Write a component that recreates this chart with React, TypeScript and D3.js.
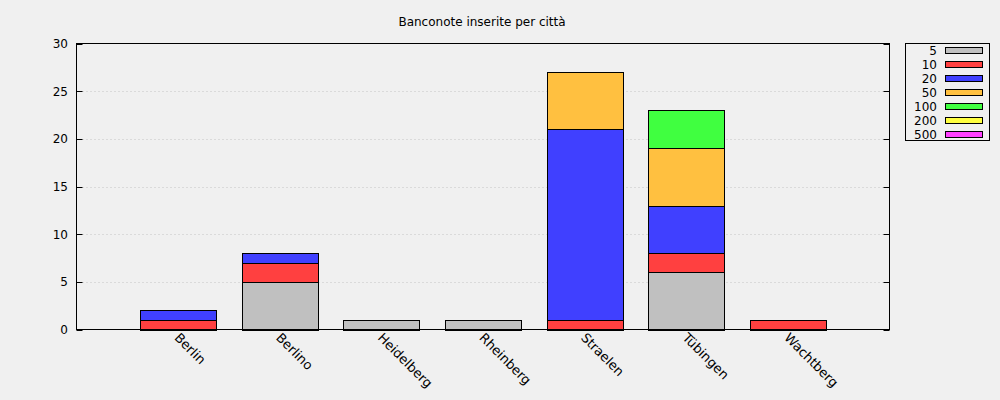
import React from "react";
import * as d3 from "d3";

const cities = ["Berlin", "Berlino", "Heidelberg", "Rheinberg", "Straelen", "Tübingen", "Wachtberg"];
const denominations = ["5", "10", "20", "50", "100", "200", "500"];
const colors = ["#c0c0c0", "#ff4040", "#4040ff", "#ffc040", "#40ff40", "#ffff40", "#ff40ff"];
// counts per denomination, one value per city
const v5 = [0, 5, 1, 1, 0, 6, 0];
const v10 = [1, 2, 0, 0, 1, 2, 1];
const v20 = [1, 1, 0, 0, 20, 5, 0];
const v50 = [0, 0, 0, 0, 6, 6, 0];
const v100 = [0, 0, 0, 0, 0, 4, 0];
const v200 = [0, 0, 0, 0, 0, 0, 0];
const v500 = [0, 0, 0, 0, 0, 0, 0];
const yTicks = [0, 5, 10, 15, 20, 25, 30];
const title = "Banconote inserite per città";

const series = [v5, v10, v20, v50, v100, v200, v500];

export default function App() {
  const W = 1000, H = 400;
  const L = 76.5, R = 889.5, T = 43.5, B = 329.5;
  const x = d3.scaleLinear().domain([-1, cities.length]).range([L, R]);
  const y = d3.scaleLinear().domain([0, 30]).range([B, T]);
  const bw = (x(1) - x(0)) * 0.75;
  const font = "DejaVu Sans, sans-serif";

  const rows = cities.map((c, i) => {
    const obj: any = { city: c };
    denominations.forEach((d, j) => (obj[d] = series[j][i]));
    return obj;
  });
  const stacked = d3.stack().keys(denominations)(rows as any);

  return (
    <svg width={W} height={H} style={{ position: "absolute", left: 0, top: 0, background: "#f0f0f0" }}>
      <rect x={0} y={0} width={W} height={H} fill="#f0f0f0" />
      <text x={482} y={26} textAnchor="middle" fontFamily={font} fontSize={12} fill="#000">{title}</text>
      {yTicks.map((t) => (
        <g key={t}>
          {t > 0 && t < 30 && (
            <line x1={L + 6} x2={R - 6} y1={Math.round(y(t)) + 0.5} y2={Math.round(y(t)) + 0.5} stroke="#c4c4c4" strokeDasharray="1,3" />
          )}
          <line x1={L} x2={L + 6} y1={Math.round(y(t)) + 0.5} y2={Math.round(y(t)) + 0.5} stroke="#000" />
          <line x1={R - 6} x2={R} y1={Math.round(y(t)) + 0.5} y2={Math.round(y(t)) + 0.5} stroke="#000" />
          <text x={68} y={y(t) + 4.5} textAnchor="end" fontFamily={font} fontSize={12} fill="#000">{t}</text>
        </g>
      ))}
      {stacked.map((s, j) =>
        s.map((d, i) => {
          const h = y(d[0]) - y(d[1]);
          if (h <= 0) return null;
          return (
            <rect key={j + "-" + i} x={Math.round(x(i) - bw / 2) + 0.5} y={Math.round(y(d[1])) + 0.5} width={Math.round(bw)} height={Math.round(y(d[0])) - Math.round(y(d[1]))}
              fill={colors[j]} stroke="#000" strokeWidth={1} />
          );
        })
      )}
      <rect x={L} y={T} width={R - L} height={B - T} fill="none" stroke="#000" strokeWidth={1} />
      {cities.map((c, i) => (
        <text key={c} transform={`translate(${x(i) - 4.5},${338.5}) rotate(45)`} fontFamily={font} fontSize={13} fill="#000">{c}</text>
      ))}
      <rect x={905.5} y={43.5} width={84} height={97} fill="none" stroke="#000" />
      {denominations.map((d, j) => (
        <g key={d}>
          <text x={937} y={50 + j * 14 + 4.5} textAnchor="end" fontFamily={font} fontSize={12} fill="#000">{d}</text>
          <rect x={945.5} y={47.5 + j * 14} width={37} height={6} fill={colors[j]} stroke="#000" />
        </g>
      ))}
    </svg>
  );
}
